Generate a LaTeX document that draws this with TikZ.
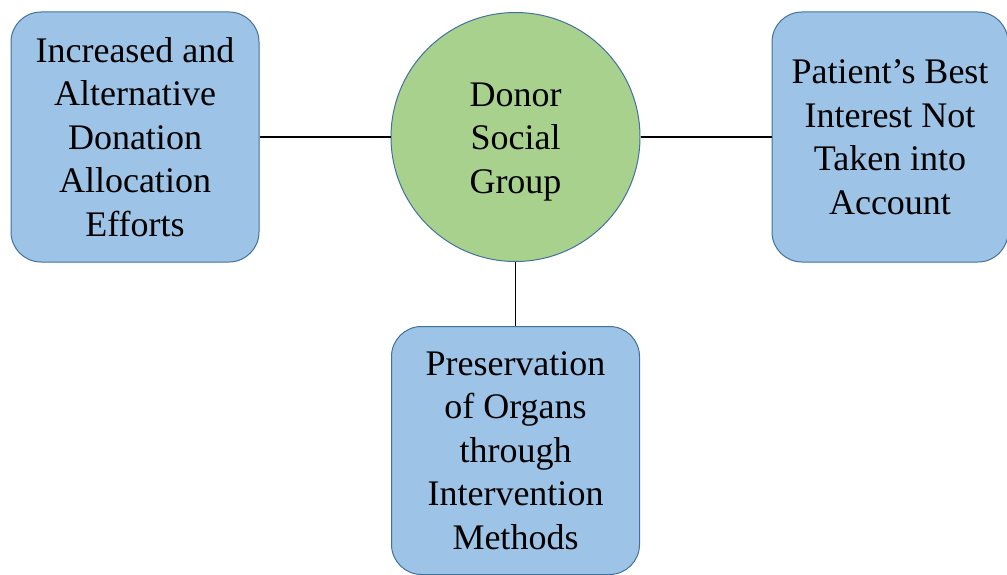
\documentclass[tikz,border=0pt]{standalone}
\usepackage{fontspec}
\setmainfont{Liberation Serif}
\usepackage{tikz}
\usetikzlibrary{positioning}
\definecolor{boxblue}{HTML}{9DC3E6}
\definecolor{hubgreen}{HTML}{A9D18E}
\definecolor{rimblue}{HTML}{41719C}

\begin{document}
\begin{tikzpicture}[
  topic/.style={rectangle, draw=rimblue, line width=1pt, fill=boxblue, rounded corners=30pt, minimum width=248pt, minimum height=250pt, inner sep=0pt, align=center, font=\fontsize{36}{43.5}\selectfont},
  hub/.style={circle, draw=rimblue, line width=1pt, fill=hubgreen, minimum size=249pt, inner sep=0pt},
  hubtext/.style={align=center, inner sep=0pt, font=\fontsize{36}{43.5}\selectfont},
  link/.style={line width=1.5pt, black}
]
  \useasboundingbox (0pt,0pt) rectangle (1007pt,-575pt);

  \node[hub] (donor) at (515.5pt,-137pt) {};
  \node[hubtext] (donorlabel) at ([yshift=-5pt]donor.center) {Donor\\Social\\Group};
  \node[topic, left=131pt of donor] (efforts) {Increased and\\Alternative\\Donation\\Allocation\\Efforts};
  \node[topic, minimum width=236pt, right=131pt of donor] (interest) {Patient’s Best\\Interest Not\\Taken into\\Account};
  \node[topic, minimum height=248pt, below=64pt of donor] (organs) {Preservation\\of Organs\\through\\Intervention\\Methods};

  \draw[link] (efforts) -- (donor);
  \draw[link] (donor) -- (interest);
  \draw[link] (donor) -- (organs);
\end{tikzpicture}
\end{document}
